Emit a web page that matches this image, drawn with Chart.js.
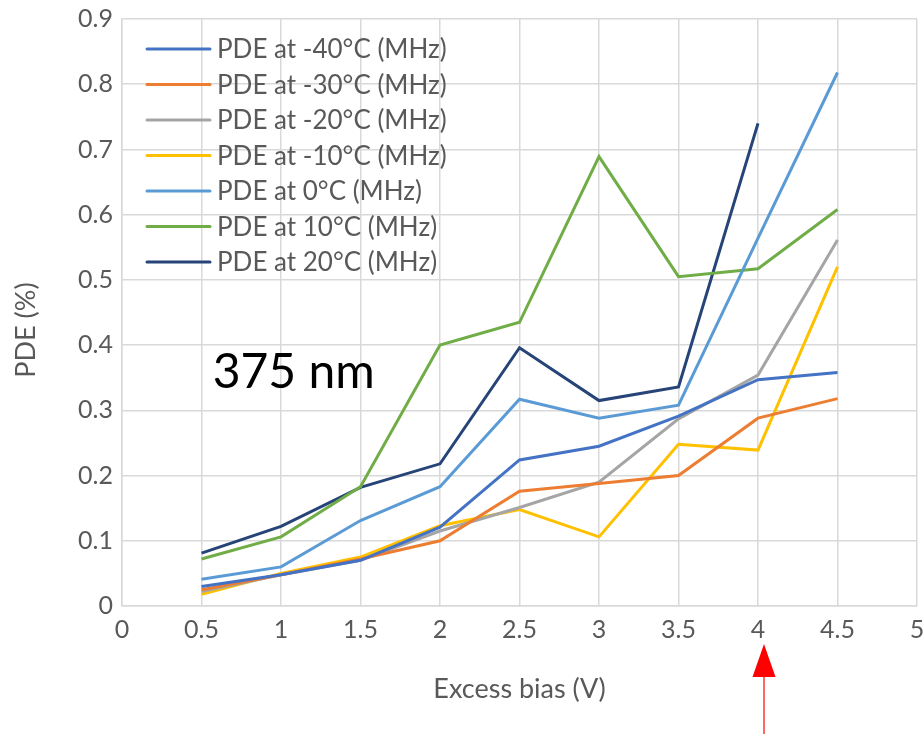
<!DOCTYPE html>
<html>
<head>
<meta charset="utf-8">
<title>PDE vs excess bias</title>
<script src="https://cdn.jsdelivr.net/npm/chart.js@4/dist/chart.umd.min.js"></script>
<style>
    body { margin: 0; background: #ffffff; }
    #chart_pde { display: block; }
</style>
</head>
<body>
<canvas id="chart_pde" width="924" height="734"></canvas>
<script>
'use strict';

/******************************************************************************************
DATA
******************************************************************************************/

var excess_bias = [0.5, 1, 1.5, 2, 2.5, 3, 3.5, 4, 4.5];

var pde_m40 = [0.030, 0.048, 0.070, 0.121, 0.224, 0.245, 0.291, 0.347, 0.358];
var pde_m30 = [0.025, 0.048, 0.072, 0.100, 0.176, 0.188, 0.200, 0.288, 0.318];
var pde_m20 = [0.022, 0.048, 0.070, 0.115, 0.151, 0.190, 0.287, 0.354, 0.561];
var pde_m10 = [0.018, 0.050, 0.075, 0.123, 0.148, 0.106, 0.248, 0.239, 0.520];
var pde_0   = [0.041, 0.060, 0.131, 0.183, 0.317, 0.288, 0.308, 0.564, 0.818];
var pde_10  = [0.072, 0.106, 0.183, 0.400, 0.435, 0.689, 0.505, 0.517, 0.608];
var pde_20  = [0.081, 0.122, 0.182, 0.218, 0.396, 0.315, 0.336, 0.740, null];

var series_labels = [
    'PDE at -40°C (MHz)',
    'PDE at -30°C (MHz)',
    'PDE at -20°C (MHz)',
    'PDE at -10°C (MHz)',
    'PDE at 0°C (MHz)',
    'PDE at 10°C (MHz)',
    'PDE at 20°C (MHz)'
];
var series_values = [pde_m40, pde_m30, pde_m20, pde_m10, pde_0, pde_10, pde_20];
var series_colors = ['#4472C4', '#ED7D31', '#A5A5A5', '#FFC000', '#5B9BD5', '#70AD47', '#264478'];

var x_ticks = [0, 0.5, 1, 1.5, 2, 2.5, 3, 3.5, 4, 4.5, 5];
var y_ticks = [0, 0.1, 0.2, 0.3, 0.4, 0.5, 0.6, 0.7, 0.8, 0.9];

var FONT = 'Lato, "Open Sans", sans-serif';
var TEXT_GREY = '#595959';
var GRID_GREY = '#D9D9D9';


/******************************************************************************************
PLUGINS
******************************************************************************************/

// legend drawn inside the plot area, top left
var inner_legend = {
    id: 'inner_legend',
    afterDatasetsDraw: function(chart) {
        var ctx = chart.ctx;
        var area = chart.chartArea;
        var x0 = area.left + 25;
        var y0 = area.top + 30;
        ctx.save();
        ctx.font = '26px ' + FONT;
        ctx.textBaseline = 'middle';
        ctx.lineCap = 'round';
        chart.data.datasets.forEach(function(ds, i) {
            var y = y0 + i * 35.5;
            ctx.strokeStyle = ds.borderColor;
            ctx.lineWidth = 3;
            ctx.beginPath();
            ctx.moveTo(x0, y);
            ctx.lineTo(x0 + 63, y);
            ctx.stroke();
            ctx.fillStyle = TEXT_GREY;
            ctx.fillText(ds.label, x0 + 70, y + 1);
        });
        ctx.restore();
    }
};

// y title, wavelength note and the red marker under 4 V
var notes = {
    id: 'notes',
    afterDraw: function(chart) {
        var ctx = chart.ctx;
        var xs = chart.scales.x;
        var ys = chart.scales.y;
        ctx.save();

        ctx.fillStyle = TEXT_GREY;
        ctx.font = '27px ' + FONT;
        ctx.textAlign = 'center';
        ctx.textBaseline = 'middle';
        ctx.translate(26, 330);
        ctx.rotate(-Math.PI / 2);
        ctx.fillText('PDE (%)', 0, 0);
        ctx.setTransform(1, 0, 0, 1, 0, 0);

        ctx.fillStyle = '#000000';
        ctx.font = '48px ' + FONT;
        ctx.textAlign = 'left';
        ctx.textBaseline = 'alphabetic';
        ctx.fillText('375 nm', xs.getPixelForValue(0.57), ys.getPixelForValue(0.335));

        var ax = xs.getPixelForValue(4) + 6;
        ctx.fillStyle = '#FF0000';
        ctx.beginPath();
        ctx.moveTo(ax, 644);
        ctx.lineTo(ax - 11.5, 677);
        ctx.lineTo(ax + 11.5, 677);
        ctx.closePath();
        ctx.fill();
        ctx.strokeStyle = '#FF0000';
        ctx.lineWidth = 1.2;
        ctx.beginPath();
        ctx.moveTo(ax, 676);
        ctx.lineTo(ax, 734);
        ctx.stroke();
        ctx.restore();
    }
};


/******************************************************************************************
PLOT
******************************************************************************************/

function build_datasets() {
    return series_labels.map(function(label, i) {
        return {
            label: label,
            data: excess_bias.map(function(x, j) {
                return { x: x, y: series_values[i][j] };
            }),
            borderColor: series_colors[i],
            backgroundColor: series_colors[i],
            borderWidth: 3,
            pointRadius: 0,
            tension: 0,
            spanGaps: false
        };
    });
}

var ctx = document.getElementById('chart_pde').getContext('2d');
var pde_chart = new Chart(ctx, {
    type: 'line',
    data: { datasets: build_datasets() },
    options: {
        responsive: false,
        animation: false,
        layout: { padding: { top: 19, right: 7, left: 0, bottom: 0 } },
        plugins: {
            legend: { display: false },
            tooltip: { enabled: false }
        },
        scales: {
            x: {
                type: 'linear',
                min: 0,
                max: 5,
                afterBuildTicks: function(scale) {
                    scale.ticks = x_ticks.map(function(v) { return { value: v }; });
                },
                afterFit: function(scale) {
                    scale.height = 128;
                    scale.paddingLeft = 0;      // keep the plot edges fixed, labels may overhang
                    scale.paddingRight = 0;
                },
                grid: { color: GRID_GREY, lineWidth: 1.5, drawTicks: false },
                border: { color: GRID_GREY, width: 1.5 },
                ticks: {
                    padding: 9,
                    color: TEXT_GREY,
                    font: { family: FONT, size: 25 },
                    maxRotation: 0,
                    autoSkip: false,
                    callback: function(value) { return String(value); }
                },
                title: {
                    display: true,
                    text: 'Excess bias (V)',
                    color: TEXT_GREY,
                    font: { family: FONT, size: 27 },
                    padding: { top: 0, bottom: 29 }
                }
            },
            y: {
                min: 0,
                max: 0.9,
                afterBuildTicks: function(scale) {
                    scale.ticks = y_ticks.map(function(v) { return { value: v }; });
                },
                afterFit: function(scale) {
                    scale.width = 122;
                    scale.paddingTop = 0;
                    scale.paddingBottom = 0;
                },
                grid: { color: GRID_GREY, lineWidth: 1.5, drawTicks: false },
                border: { color: GRID_GREY, width: 1.5 },
                ticks: {
                    padding: 9,
                    color: TEXT_GREY,
                    font: { family: FONT, size: 25 },
                    callback: function(value) { return String(Math.round(value * 10) / 10); }
                }
            }
        }
    },
    plugins: [inner_legend, notes]
});
</script>
</body>
</html>
